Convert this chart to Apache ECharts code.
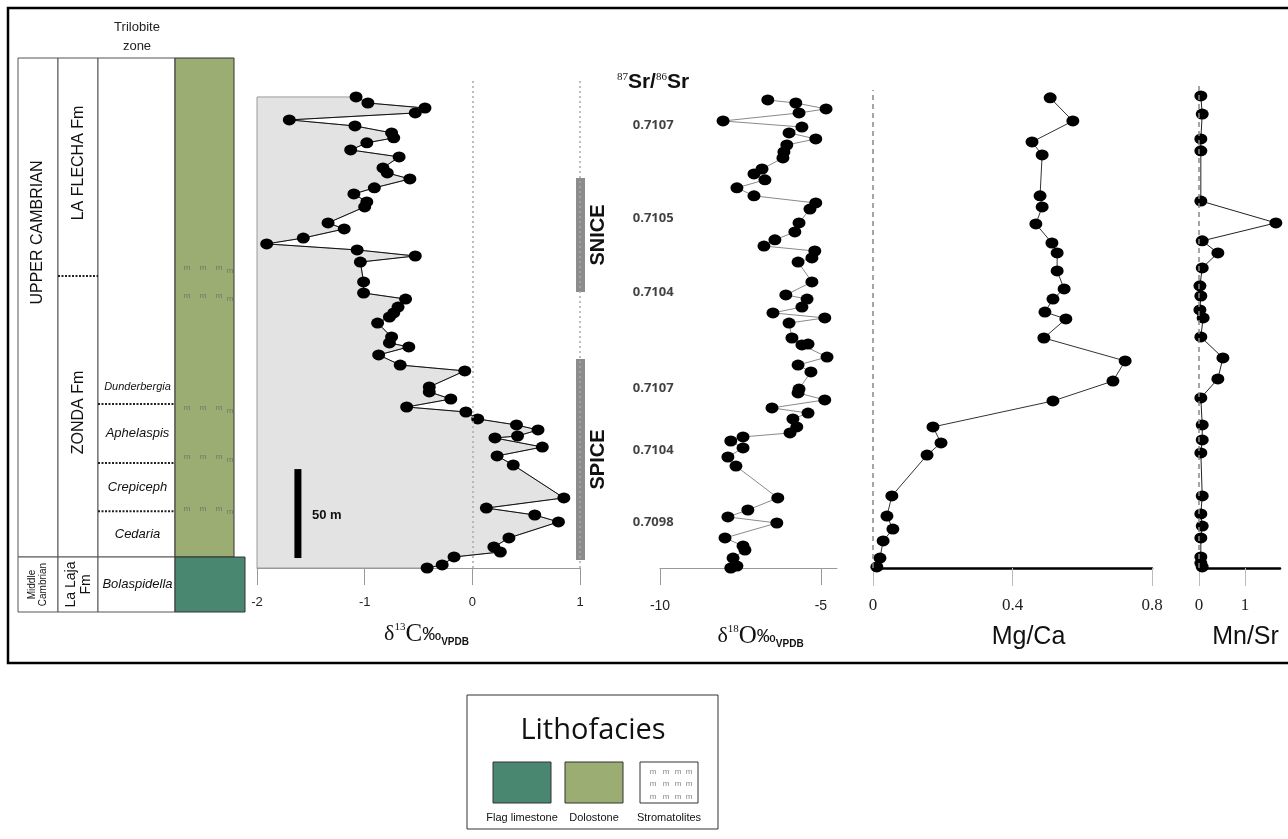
<!DOCTYPE html>
<html>
<head>
<meta charset="utf-8">
<title>Upper Cambrian chemostratigraphy</title>
<script src="https://cdn.jsdelivr.net/npm/echarts@6/dist/echarts.min.js"></script>
<style>
html, body { margin: 0; padding: 0; background: #fff; }
#main { width: 1288px; height: 839px; }
</style>
</head>
<body>
<div id="main"></div>
<script>
var chart = echarts.init(document.getElementById('main'));

// ---- data (stratigraphic height in m above the section base) ----
var c13Height = [264.8,261.4,258.6,255.8,251.9,248.5,244.6,241.8,239.0,235.0,231.1,224.9,222.1,218.7,213.7,210.3,205.8,203.0,194.0,190.6,185.5,182.2,178.8,175.4,172.0,160.8,154.6,151.2,146.7,143.4,141.1,137.7,129.9,126.5,124.3,119.8,114.1,110.8,101.8,99.0,95.0,90.5,87.7,83.8,80.4,77.6,74.2,73.1,68.0,63.0,57.9,39.4,33.7,29.8,25.9,16.9,11.8,9.0,6.2,1.7,0.0];
var c13Value = [-1.08,-0.97,-0.44,-0.53,-1.70,-1.09,-0.75,-0.73,-0.98,-1.13,-0.68,-0.83,-0.79,-0.58,-0.91,-1.10,-0.98,-1.00,-1.34,-1.19,-1.57,-1.91,-1.07,-0.53,-1.04,-1.01,-1.01,-0.62,-0.69,-0.73,-0.77,-0.88,-0.75,-0.77,-0.59,-0.87,-0.67,-0.07,-0.40,-0.40,-0.20,-0.61,-0.06,0.05,0.41,0.61,0.42,0.21,0.65,0.23,0.38,0.85,0.13,0.58,0.80,0.34,0.20,0.26,-0.17,-0.28,-0.42];

var o18Height = [263.1,261.4,258.1,255.8,251.3,247.9,244.6,241.2,237.8,233.9,230.5,224.3,221.5,218.2,213.7,209.2,205.2,201.8,194.0,188.9,184.5,181.0,178.2,174.3,172.0,160.8,153.5,151.2,146.7,143.4,140.6,137.7,129.3,125.9,125.4,118.6,114.1,110.2,100.6,98.4,94.5,90.0,87.1,83.8,79.3,75.9,73.7,71.4,67.5,62.4,57.3,39.4,32.6,28.7,25.3,16.9,12.4,10.1,5.6,1.1,0.0];
var o18Value = [-6.65,-5.78,-4.84,-5.68,-8.04,-5.59,-5.99,-5.16,-6.06,-6.15,-6.18,-6.83,-7.08,-6.74,-7.61,-7.08,-5.16,-5.34,-5.68,-5.81,-6.43,-6.77,-5.19,-5.28,-5.71,-5.28,-6.09,-5.43,-5.59,-6.49,-4.88,-5.99,-5.90,-5.40,-5.59,-4.81,-5.71,-5.31,-5.68,-5.71,-4.88,-6.52,-5.40,-5.87,-5.75,-5.96,-7.42,-7.80,-7.42,-7.89,-7.64,-6.34,-7.27,-7.89,-6.37,-7.98,-7.42,-7.36,-7.73,-7.61,-7.80];

var mgcaHeight = [264.3,251.3,239.5,232.2,209.2,203.0,193.4,182.7,177.1,167.0,156.9,151.2,143.9,140.0,129.3,116.4,105.1,93.9,79.3,70.3,63.5,40.5,29.2,21.9,15.2,5.6,0.6];
var mgcaValue = [0.508,0.573,0.456,0.485,0.479,0.485,0.467,0.513,0.528,0.528,0.548,0.516,0.493,0.553,0.490,0.723,0.688,0.516,0.172,0.195,0.155,0.054,0.040,0.057,0.029,0.020,0.011];

var mnsrHeight = [265.4,255.2,241.2,234.5,206.3,194.0,183.9,177.1,168.7,158.6,152.9,145.1,140.6,129.9,118.1,106.3,95.6,80.4,72.0,64.7,40.5,30.4,23.6,16.9,6.2,2.8,0.6];
var mnsrValue = [0.04,0.07,0.04,0.04,0.04,1.67,0.07,0.41,0.07,0.02,0.04,0.02,0.09,0.04,0.52,0.41,0.04,0.07,0.07,0.04,0.07,0.04,0.07,0.04,0.04,0.04,0.07];

var srLabels = ['0.7107', '0.7105', '0.7104', '0.7107', '0.7104', '0.7098'];
var srHeight = [249.1, 196.8, 155.2, 101.2, 66.3, 25.9];

var eventNames = ['SNICE', 'SPICE'];
var eventBounds = [[155.2, 219.3], [4.5, 117.5]];

var stageNames = ['UPPER CAMBRIAN', 'Middle\nCambrian'];
var stageBounds = [[6.2, 286.7], [-24.7, 6.2]];
var formationNames = ['LA FLECHA Fm', 'ZONDA Fm', 'La Laja\nFm'];
var formationBounds = [[164.2, 286.7], [6.2, 164.2], [-24.7, 6.2]];
var zoneNames = ['Dunderbergia', 'Aphelaspis', 'Crepiceph', 'Cedaria', 'Bolaspidella'];
var zoneBounds = [[92.2, 111.4], [59.0, 92.2], [32.0, 59.0], [6.2, 32.0], [-24.7, 6.2]];
var lithoNames = ['Dolostone', 'Flag limestone'];
var lithoBounds = [[6.2, 286.7], [-24.7, 6.2]];
var stromatoliteLevels = [168.7, 152.9, 89.9, 62.4, 33.2];
var scaleBarMetres = 50;

// ---- styling / layout ----
var SANS = 'Arial, "Liberation Sans", sans-serif';
var NARROW = '"Liberation Sans Narrow", "Arial Narrow", "Liberation Sans", sans-serif';
var SERIF = '"Times New Roman", "Liberation Serif", serif';
var H_MIN = -24.7, H_MAX = 286.7;
var COL = { stage: [0, 40], formation: [40, 80], zone: [80, 157], litho: [157, 216], flag: [157, 227] };
var LITHO_COLOR = { 'Dolostone': '#9bad73', 'Flag limestone': '#4a8770' };
var stageEdges = [].concat.apply([], stageBounds);

function pts(vals, hs) {
    return vals.map(function (v, i) { return [v, hs[i]]; });
}
function hline(a, b, y, dotted) {
    return {
        type: 'line', shape: { x1: a, y1: y, x2: b, y2: y },
        style: dotted ? { stroke: '#222', lineWidth: 2, lineDash: [2, 1.5] } : { stroke: '#555', lineWidth: 1 }
    };
}
function deltaName(iso, el) {
    return '{d|δ}{sup|' + iso + '}{c|' + el + '}{pm|‰}{sub|VPDB}';
}
var deltaRich = {
    d: { fontFamily: SERIF, fontSize: 22, color: '#111' },
    sup: { fontFamily: SERIF, fontSize: 11, color: '#111', verticalAlign: 'top' },
    c: { fontFamily: SERIF, fontSize: 25, color: '#111' },
    pm: { fontFamily: SANS, fontSize: 19, color: '#111' },
    sub: { fontFamily: SANS, fontSize: 10, fontWeight: 'bold', color: '#111', verticalAlign: 'bottom' }
};

// grid 0 = lithologic column (extends below the section base); others = profiles
var grids = [
    { left: 18, width: 227, top: 58, height: 554 },
    { left: 257, width: 323 },
    { left: 625, width: 60 },
    { left: 660, width: 177 },
    { left: 873, width: 279 },
    { left: 1199, width: 81 }
].map(function (g) {
    return Object.assign({ top: 58, height: 510, outerBoundsMode: 'none', containLabel: false }, g);
});

var yAxes = grids.map(function (g, i) {
    return { gridIndex: i, type: 'value', min: i === 0 ? H_MIN : 0, max: H_MAX, show: false };
});

function greyAxis(idx, min, max, ticks, fontSize, margin) {
    return {
        gridIndex: idx, type: 'value', min: min, max: max,
        axisLine: { onZero: false, lineStyle: { color: '#999', width: 1 } },
        axisTick: { length: 17, lineStyle: { color: '#999' }, customValues: ticks },
        axisLabel: { customValues: ticks, fontFamily: SANS, fontSize: fontSize, color: '#222', margin: margin },
        splitLine: { show: false }
    };
}
function blackAxis(idx, min, max, ticks, name, shift) {
    return {
        gridIndex: idx, type: 'value', min: min, max: max,
        axisLine: { onZero: false, lineStyle: { color: '#000', width: 2.5 } },
        axisTick: { length: 18, lineStyle: { color: '#bbb' }, customValues: ticks },
        axisLabel: { customValues: ticks, fontFamily: SERIF, fontSize: 17, color: '#222', margin: 29 },
        splitLine: { show: false },
        name: name, nameLocation: 'middle', nameGap: 57,
        nameTextStyle: { fontFamily: NARROW, fontSize: 25, color: '#111', padding: [0, 0, 0, shift] }
    };
}

var xAxes = [
    { gridIndex: 0, type: 'value', min: 0, max: 227, show: false },
    Object.assign(greyAxis(1, -2, 1, [-2, -1, 0, 1], 13, 28), {
        name: deltaName('13', 'C'), nameLocation: 'middle', nameGap: 54,
        nameTextStyle: { padding: [0, 0, 0, 16], rich: deltaRich }
    }),
    { gridIndex: 2, type: 'value', min: 0, max: 1, show: false },
    Object.assign(greyAxis(3, -10, -4.5, [-10, -5], 14, 31), {
        name: deltaName('18', 'O'), nameLocation: 'middle', nameGap: 56,
        nameTextStyle: { padding: [0, 0, 0, 24], rich: deltaRich }
    }),
    blackAxis(4, 0, 0.8, [0, 0.4, 0.8], 'Mg/Ca', 32),
    blackAxis(5, 0, 1.76, [0, 1], 'Mn/Sr', 12)
];

var dotStyle = { symbol: 'circle', symbolSize: [13, 11], itemStyle: { color: '#000' } };
function profile(name, idx, vals, hs, lineColor, extra) {
    return Object.assign({
        name: name, type: 'line', xAxisIndex: idx, yAxisIndex: idx, z: 4, clip: false,
        data: pts(vals, hs), showSymbol: true,
        lineStyle: { color: lineColor, width: 1 },
        emphasis: { disabled: true }
    }, dotStyle, extra || {});
}
function vertical(x, top, type, color, width) {
    return {
        silent: true, symbol: ['none', 'none'], label: { show: false },
        lineStyle: { type: type, color: color, width: width },
        data: [[{ coord: [x, 0] }, { coord: [x, top] }]]
    };
}

var series = [
    // stratigraphic column: stage frames
    {
        type: 'custom', xAxisIndex: 0, yAxisIndex: 0, z: 2, silent: true,
        data: stageBounds.map(function (b, i) { return [b[0], b[1], i]; }),
        renderItem: function (params, api) {
            var i = params.dataIndex, lo = api.value(0), hi = api.value(1), kids = [];
            ['stage', 'formation', 'zone'].forEach(function (k) {
                var a = api.coord([COL[k][0], hi]), b = api.coord([COL[k][1], lo]);
                kids.push({ type: 'rect', shape: { x: a[0], y: a[1], width: b[0] - a[0], height: b[1] - a[1] },
                    style: { fill: '#fff', stroke: '#555', lineWidth: 1 } });
            });
            var a = api.coord([COL.stage[0], hi]), b = api.coord([COL.stage[1], lo]);
            var small = stageNames[i].indexOf('\n') >= 0;
            kids.push({ type: 'text', x: (a[0] + b[0]) / 2, y: (a[1] + b[1]) / 2 + (small ? 0 : -75), rotation: Math.PI / 2,
                style: { text: stageNames[i], fontFamily: SANS, fontSize: small ? 10 : 16, lineHeight: small ? 11 : 18,
                    fill: '#111', align: 'center', verticalAlign: 'middle' } });
            return { type: 'group', children: kids };
        }
    },
    // formations
    {
        type: 'custom', xAxisIndex: 0, yAxisIndex: 0, z: 3, silent: true,
        data: formationBounds.map(function (b, i) { return [b[0], b[1], i]; }),
        renderItem: function (params, api) {
            var i = params.dataIndex, lo = api.value(0), hi = api.value(1), kids = [];
            var a = api.coord([COL.formation[0], hi]), b = api.coord([COL.formation[1], lo]);
            if (stageEdges.indexOf(lo) < 0) kids.push(hline(a[0], b[0], b[1], true));
            var small = formationNames[i].indexOf('\n') >= 0;
            kids.push({ type: 'text', x: (a[0] + b[0]) / 2 + 1, y: (a[1] + b[1]) / 2 - (small ? 0 : 4), rotation: Math.PI / 2,
                style: { text: formationNames[i], fontFamily: SANS, fontSize: small ? 14 : 16, lineHeight: small ? 15 : 18,
                    fill: '#111', align: 'center', verticalAlign: 'middle' } });
            return { type: 'group', children: kids };
        }
    },
    // trilobite zones
    {
        type: 'custom', xAxisIndex: 0, yAxisIndex: 0, z: 3, silent: true,
        data: zoneBounds.map(function (b, i) { return [b[0], b[1], i]; }),
        renderItem: function (params, api) {
            var i = params.dataIndex, lo = api.value(0), hi = api.value(1), kids = [];
            var a = api.coord([COL.zone[0], hi]), b = api.coord([COL.zone[1], lo]);
            if (stageEdges.indexOf(lo) < 0) kids.push(hline(a[0], b[0], b[1], true));
            kids.push({ type: 'text', x: (a[0] + b[0]) / 2 + 1, y: (a[1] + b[1]) / 2,
                style: { text: zoneNames[i], fontFamily: SANS, fontStyle: 'italic',
                    fontSize: zoneNames[i].length > 11 && i < 4 ? 11 : 13,
                    fill: '#111', align: 'center', verticalAlign: 'middle' } });
            return { type: 'group', children: kids };
        }
    },
    // lithology
    {
        type: 'custom', xAxisIndex: 0, yAxisIndex: 0, z: 3, silent: true,
        data: lithoBounds.map(function (b, i) { return [b[0], b[1], i]; }),
        renderItem: function (params, api) {
            var name = lithoNames[params.dataIndex];
            var col = name === 'Flag limestone' ? COL.flag : COL.litho;
            var a = api.coord([col[0], api.value(1)]), b = api.coord([col[1], api.value(0)]);
            return { type: 'rect', shape: { x: a[0], y: a[1], width: b[0] - a[0], height: b[1] - a[1] },
                style: { fill: LITHO_COLOR[name], stroke: '#333', lineWidth: 1 } };
        }
    },
    // stromatolite marks
    {
        type: 'custom', xAxisIndex: 0, yAxisIndex: 0, z: 5, silent: true,
        data: stromatoliteLevels.map(function (h) { return [COL.litho[0], h]; }),
        renderItem: function (params, api) {
            var p = api.coord([COL.litho[0], api.value(1)]);
            return { type: 'group', children: [12, 28, 44, 55].map(function (dx, k) {
                return { type: 'text', x: p[0] + dx, y: p[1] + (k === 3 ? 3 : 0),
                    style: { text: 'm', fontFamily: SANS, fontSize: 8, fill: '#6f7866', align: 'center', verticalAlign: 'middle' } };
            }) };
        }
    },
    // d13C shaded envelope
    {
        type: 'custom', xAxisIndex: 1, yAxisIndex: 1, z: 1, silent: true,
        data: pts(c13Value, c13Height),
        renderItem: function (params, api) {
            if (params.dataIndex !== 0) return null;
            var poly = [api.coord([-2, c13Height[0]])];
            for (var i = 0; i < c13Value.length; i++) poly.push(api.coord([c13Value[i], c13Height[i]]));
            poly.push(api.coord([-2, c13Height[c13Height.length - 1]]));
            return { type: 'polygon', shape: { points: poly }, style: { fill: '#e3e3e3', stroke: '#9a9a9a', lineWidth: 1 } };
        }
    },
    profile('δ13C', 1, c13Value, c13Height, '#111', {
        markLine: {
            silent: true, symbol: ['none', 'none'], label: { show: false },
            lineStyle: { type: [2, 3], color: '#aaa', width: 1.5 },
            data: [[{ coord: [0, 0] }, { coord: [0, 275] }], [{ coord: [1, 0] }, { coord: [1, 275] }]]
        }
    }),
    // SNICE / SPICE excursion bars
    {
        type: 'custom', xAxisIndex: 1, yAxisIndex: 1, z: 3, silent: true,
        data: eventBounds.map(function (b, i) { return [b[0], b[1], i]; }),
        renderItem: function (params, api) {
            var top = api.coord([1, api.value(1)]), bot = api.coord([1, api.value(0)]);
            return { type: 'group', children: [
                { type: 'rect', shape: { x: top[0] - 4, y: top[1], width: 9, height: bot[1] - top[1] }, style: { fill: '#8c8c8c' } },
                { type: 'text', x: top[0] + 18, y: (top[1] + bot[1]) / 2, rotation: Math.PI / 2,
                    style: { text: eventNames[params.dataIndex], fontFamily: SANS, fontWeight: 'bold', fontSize: 20,
                        fill: '#111', align: 'center', verticalAlign: 'middle' } }
            ] };
        }
    },
    // 50 m scale bar
    {
        type: 'custom', xAxisIndex: 1, yAxisIndex: 1, z: 3, silent: true,
        data: [[scaleBarMetres]],
        renderItem: function (params, api) {
            var base = api.coord([-1.62, 5.6]), top = api.coord([-1.62, 5.6 + api.value(0)]);
            return { type: 'group', children: [
                { type: 'rect', shape: { x: base[0] - 3.5, y: top[1], width: 7, height: base[1] - top[1] }, style: { fill: '#000' } },
                { type: 'text', x: base[0] + 14, y: (top[1] + base[1]) / 2 + 2,
                    style: { text: api.value(0) + ' m', fontFamily: SANS, fontWeight: 'bold', fontSize: 13, fill: '#111', verticalAlign: 'middle' } }
            ] };
        }
    },
    // 87Sr/86Sr values
    {
        type: 'scatter', xAxisIndex: 2, yAxisIndex: 2, z: 4, silent: true, symbolSize: 1,
        itemStyle: { color: 'rgba(0,0,0,0)' },
        data: srHeight.map(function (h, i) { return [0.47, h, srLabels[i]]; }),
        label: { show: true, position: 'inside', formatter: function (p) { return p.value[2]; },
            fontFamily: '"Open Sans", "Noto Sans", sans-serif', fontWeight: 'bold', fontSize: 13, color: '#111' }
    },
    profile('δ18O', 3, o18Value, o18Height, '#8a8a8a'),
    profile('Mg/Ca', 4, mgcaValue, mgcaHeight, '#333', { markLine: vertical(0, 268.7, [5, 4], '#888', 1.5) }),
    profile('Mn/Sr', 5, mnsrValue, mnsrHeight, '#222', { markLine: vertical(0, 271, [5, 4], '#888', 1.5) })
];

// legend for lithofacies
var legendKids = [
    { type: 'rect', shape: { x: 467, y: 695, width: 251, height: 134 }, style: { fill: '#fff', stroke: '#333', lineWidth: 1 } },
    { type: 'text', x: 593, y: 731, style: { text: 'Lithofacies', fontFamily: '"Open Sans", "Noto Sans", sans-serif', fontSize: 29,
        fill: '#111', align: 'center', verticalAlign: 'middle' } }
];
[['Flag limestone', LITHO_COLOR['Flag limestone'], 493], ['Dolostone', LITHO_COLOR['Dolostone'], 565], ['Stromatolites', '#fff', 640]]
    .forEach(function (s) {
        legendKids.push({ type: 'rect', shape: { x: s[2], y: 762, width: 58, height: 41 }, style: { fill: s[1], stroke: '#333', lineWidth: 1 } });
        legendKids.push({ type: 'text', x: s[2] + 29, y: 818, style: { text: s[0], fontFamily: NARROW, fontSize: 11,
            fill: '#111', align: 'center', verticalAlign: 'middle' } });
    });
[653, 666, 678, 689].forEach(function (x) {
    [772, 784, 797].forEach(function (y) {
        legendKids.push({ type: 'text', x: x, y: y, style: { text: 'm', fontFamily: SANS, fontSize: 8, fill: '#888',
            align: 'center', verticalAlign: 'middle' } });
    });
});

var option = {
    animation: false,
    backgroundColor: '#fff',
    grid: grids,
    xAxis: xAxes,
    yAxis: yAxes,
    series: series,
    graphic: [
        { type: 'rect', silent: true, shape: { x: 8, y: 8, width: 1300, height: 655 }, style: { fill: 'none', stroke: '#000', lineWidth: 2.5 } },
        { type: 'text', x: 137, y: 37, style: { text: 'Trilobite\nzone', fontFamily: SANS, fontSize: 13, lineHeight: 19,
            fill: '#222', align: 'center', verticalAlign: 'middle' } },
        { type: 'text', x: 653, y: 82, style: {
            text: '{s|87}{b|Sr/}{s|86}{b|Sr}', align: 'center', verticalAlign: 'middle',
            rich: {
                s: { fontFamily: SERIF, fontSize: 11, fill: '#111', verticalAlign: 'top' },
                b: { fontFamily: SANS, fontWeight: 'bold', fontSize: 21, fill: '#111' }
            } } },
        { type: 'group', children: legendKids }
    ]
};

chart.setOption(option);
</script>
</body>
</html>
